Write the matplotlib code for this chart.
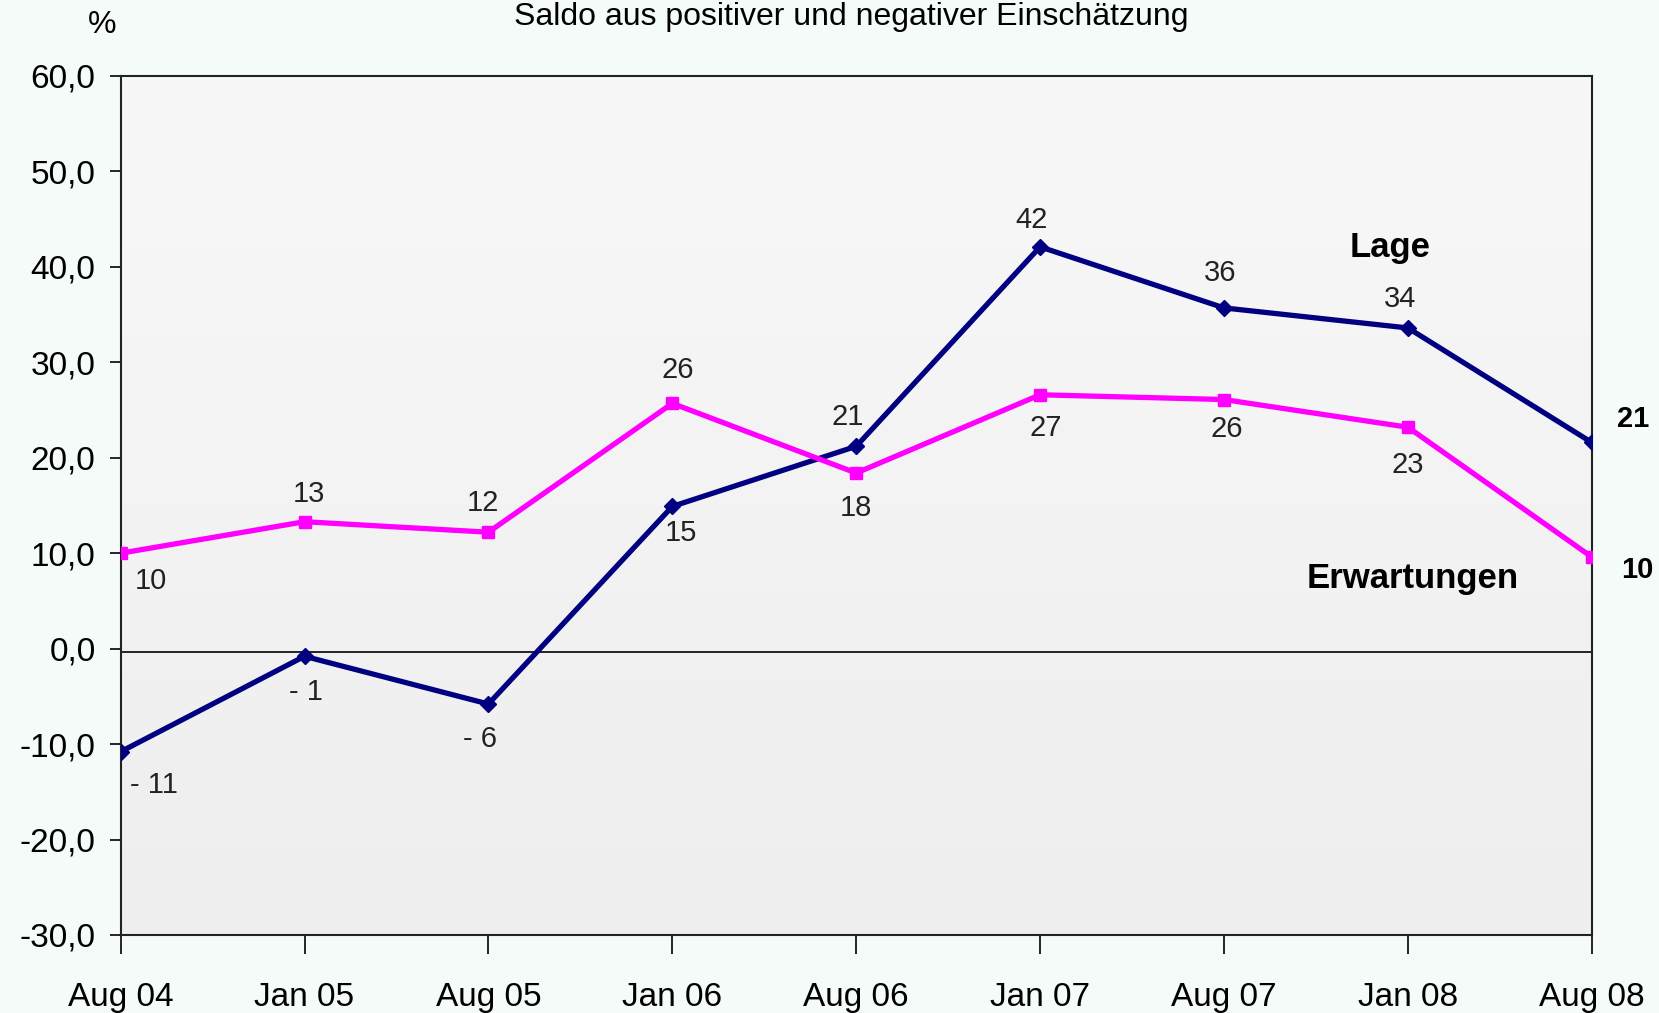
import numpy as np
import matplotlib
matplotlib.use("Agg")
import matplotlib.pyplot as plt

plt.rcParams['font.family'] = ['Liberation Sans', 'DejaVu Sans']

# data
months = ['Aug 04', 'Jan 05', 'Aug 05', 'Jan 06', 'Aug 06', 'Jan 07', 'Aug 07', 'Jan 08', 'Aug 08']
lage = [-10.8, -0.8, -5.8, 14.9, 21.2, 42.1, 35.7, 33.6, 21.6]
erwartungen = [10.0, 13.3, 12.2, 25.7, 18.4, 26.6, 26.1, 23.2, 9.6]
lage_labels = ['- 11', '- 1', '- 6', '15', '21', '42', '36', '34', '21']
erw_labels = ['10', '13', '12', '26', '18', '27', '26', '23', '10']
yticks = [60, 50, 40, 30, 20, 10, 0, -10, -20, -30]

# label offsets in points (dx, dy) relative to each marker
lage_off = [(24, -24), (1, -26), (-6, -25), (6, -19), (-6, 21), (-6, 19), (-3, 25), (-6, 21), (30, 17)]
erw_off = [(22, -20), (3, 20), (-4, 21), (4, 24), (0, -25), (4, -24), (2, -21), (0, -27), (33, -9)]

fig = plt.figure(figsize=(16.59, 10.13), dpi=100, facecolor='#f5fbf8')
ax = fig.add_axes([0.0727, 0.077, 0.8868, 0.848])

x = np.arange(len(months))

# slight gradient in the plot area, lighter at the top
grad = np.linspace(0, 1, 256).reshape(-1, 1)
cmap = matplotlib.colors.LinearSegmentedColormap.from_list('bg', ['#f8f8f8', '#eeeeee'])
ax.imshow(grad, aspect='auto', cmap=cmap, extent=[0, len(months) - 1, -30, 60],
          zorder=0, origin='upper')

ax.axhline(-0.3, color='black', lw=1.2, zorder=1)

ax.plot(x, lage, color='#000080', lw=3.8, marker='D', markersize=8, zorder=3)
ax.plot(x, erwartungen, color='#ff00ff', lw=3.8, marker='s', markersize=9, zorder=3)

ax.set_xlim(0, len(months) - 1)
ax.set_ylim(-30, 60)
ax.set_yticks(yticks)
ax.set_yticklabels([('%.1f' % v).replace('.', ',') for v in yticks], fontsize=24)
ax.set_xticks(x)
ax.set_xticklabels(months, fontsize=24)
ax.tick_params(axis='y', length=8, width=1.2, pad=10)
ax.tick_params(axis='x', length=14, width=1.2, pad=20)
for s in ax.spines.values():
    s.set_color('#222222')
    s.set_linewidth(1.5)

# data labels
last = len(months) - 1
for i in range(len(months)):
    bold = 'bold' if i == last else 'normal'
    col = 'black' if i == last else '#222222'
    ax.annotate(lage_labels[i], (x[i], lage[i]), xytext=lage_off[i], textcoords='offset points',
                ha='center', va='center', fontsize=21, color=col, fontweight=bold)
    ax.annotate(erw_labels[i], (x[i], erwartungen[i]), xytext=erw_off[i], textcoords='offset points',
                ha='center', va='center', fontsize=21, color=col, fontweight=bold)

ax.text(0.863, 0.80, 'Lage', transform=ax.transAxes, ha='center', va='center',
        fontsize=25, fontweight='bold')
ax.text(0.878, 0.415, 'Erwartungen', transform=ax.transAxes, ha='center', va='center',
        fontsize=25, fontweight='bold')

fig.text(0.0615, 0.975, '%', ha='center', va='center', fontsize=23)
fig.text(0.513, 0.983, 'Saldo aus positiver und negativer Einschätzung', ha='center', va='center',
         fontsize=23)

fig.savefig('out.png', dpi=100, facecolor=fig.get_facecolor())
